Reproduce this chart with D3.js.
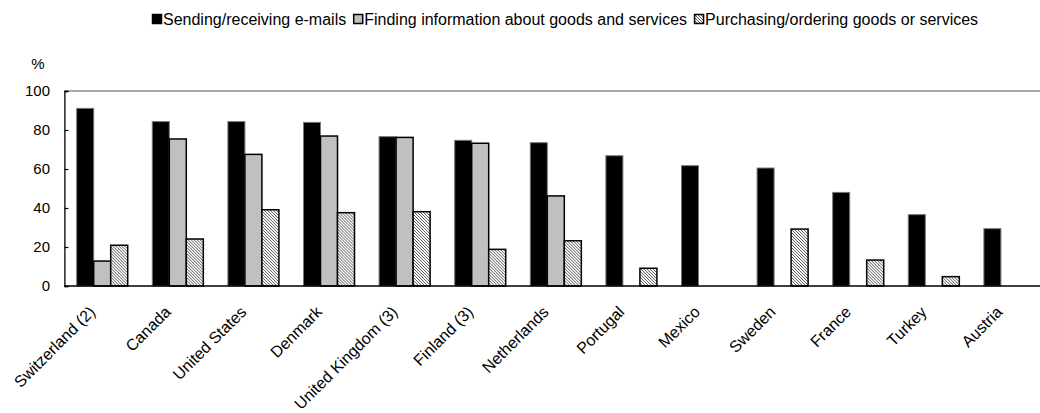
<!DOCTYPE html>
<html>
<head>
<meta charset="utf-8">
<script src="https://cdn.jsdelivr.net/npm/d3@7"></script>
<style>
  html, body { margin: 0; padding: 0; background: #fff; }
  svg { display: block; font-family: "Liberation Sans", Arial, sans-serif; }
</style>
</head>
<body>
<svg id="chart" width="1040" height="413"></svg>
<script>
// Countries, in display order
const countries = ["Switzerland (2)", "Canada", "United States", "Denmark", "United Kingdom (3)",
  "Finland (3)", "Netherlands", "Portugal", "Mexico", "Sweden", "France", "Turkey", "Austria"];

// Share of internet users by activity (%); null = not available
const emails      = [91.1, 84.3, 84.3, 83.9, 76.6, 74.7, 73.5, 66.8, 61.7, 60.5, 48.0, 36.6, 29.4];
const information = [12.8, 75.4, 67.5, 76.9, 76.2, 73.2, 46.2, null, null, null, null, null, null];
const purchasing  = [20.9, 24.1, 39.1, 37.6, 38.1, 18.8, 23.2, 9.1, null, 29.2, 13.3, 4.8, null];

const seriesNames = ["Sending/receiving e-mails", "Finding information about goods and services",
  "Purchasing/ordering goods or services"];
const yTicks = [0, 20, 40, 60, 80, 100];

const svg = d3.select("#chart");

// Fine downward-diagonal hatch used for the purchasing series
const defs = svg.append("defs");
const pat = defs.append("pattern")
  .attr("id", "hatch").attr("patternUnits", "userSpaceOnUse")
  .attr("width", 3).attr("height", 3);
pat.append("rect").attr("width", 3).attr("height", 3).attr("fill", "#fff");
pat.append("path").attr("d", "M-1,2 l2,2 M0,0 l3,3 M2,-1 l2,2")
  .attr("stroke", "#444").attr("stroke-width", 0.9);

const styles = [
  { fill: "#000", stroke: "#777", sw: 1 },
  { fill: "#c0c0c0", stroke: "#000", sw: 1.5 },
  { fill: "url(#hatch)", stroke: "#000", sw: 1.5 }
];
const series = [emails, information, purchasing];

const plotLeft = 64.4, plotRight = 1047.2, plotTop = 91, plotBottom = 286;

const x0 = d3.scaleBand().domain(countries).range([plotLeft, plotRight])
  .paddingInner(0.325).paddingOuter(0.1625);
const x1 = d3.scaleBand().domain(d3.range(3)).range([0, x0.bandwidth()]);
const y = d3.scaleLinear().domain([0, 100]).range([plotBottom, plotTop]);

// Top border of plot area
svg.append("line")
  .attr("x1", plotLeft).attr("x2", 1040).attr("y1", y(100)).attr("y2", y(100))
  .attr("stroke", "#8c8c8c").attr("stroke-width", 1.5);

// Bars
const groups = svg.append("g").selectAll("g")
  .data(countries).join("g")
  .attr("transform", d => `translate(${x0(d)},0)`);

groups.selectAll("rect")
  .data((d, i) => series.map((s, k) => ({ k, v: s[i] })).filter(e => e.v != null))
  .join("rect")
  .attr("x", d => x1(d.k))
  .attr("width", x1.bandwidth())
  .attr("y", d => y(d.v))
  .attr("height", d => y(0) - y(d.v))
  .attr("fill", d => styles[d.k].fill)
  .attr("stroke", d => styles[d.k].stroke)
  .attr("stroke-width", d => styles[d.k].sw);

// Y axis with inward ticks
const yAxis = d3.axisRight(y).tickValues(yTicks).tickSize(4).tickFormat("");
svg.append("g").attr("transform", `translate(${plotLeft},0)`)
  .call(yAxis)
  .call(g => g.select(".domain").attr("stroke", "#000").attr("stroke-width", 1.3))
  .call(g => g.selectAll(".tick line").attr("stroke", "#000").attr("stroke-width", 1.2));

svg.append("g").selectAll("text").data(yTicks).join("text")
  .attr("x", 50).attr("y", d => y(d)).attr("dy", "0.35em")
  .attr("text-anchor", "end").attr("font-size", 15).attr("fill", "#000")
  .text(d => d);

svg.append("text").attr("x", 38).attr("y", 69)
  .attr("text-anchor", "middle").attr("font-size", 15).text("%");

// X axis baseline
svg.append("line")
  .attr("x1", plotLeft).attr("x2", 1040).attr("y1", y(0)).attr("y2", y(0))
  .attr("stroke", "#000").attr("stroke-width", 1.3);

// Rotated country labels
svg.append("g").selectAll("text").data(countries).join("text")
  .attr("transform", d => `translate(${x0(d) + x0.bandwidth() / 2 - 10},${plotBottom + 23}) rotate(-45)`)
  .attr("text-anchor", "end").attr("dy", "0.35em")
  .attr("font-size", 16).attr("fill", "#000")
  .text(d => d);

// Legend
const legend = svg.append("g").attr("transform", "translate(152,14)");
let lx = 0;
seriesNames.forEach((name, k) => {
  const g = legend.append("g").attr("transform", `translate(${lx},0)`);
  g.append("rect").attr("x", 0.5).attr("y", 0.5).attr("width", 9).attr("height", 9)
    .attr("fill", styles[k].fill).attr("stroke", "#000").attr("stroke-width", 1.5);
  const t = g.append("text").attr("x", 11).attr("y", 5).attr("dy", "0.35em")
    .attr("font-size", 16).attr("fill", "#000").text(name);
  lx += 11 + t.node().getComputedTextLength() + 7;
});
</script>
</body>
</html>
